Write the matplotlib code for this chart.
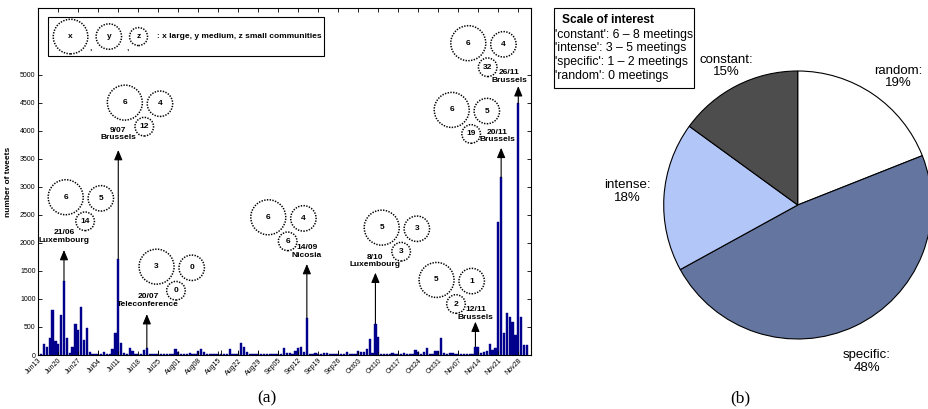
import numpy as np
import matplotlib.pyplot as plt
from matplotlib.patches import Rectangle

plt.rcParams["font.family"] = ["Liberation Sans", "DejaVu Sans"]

# tweets per day, first value is 13 June
tweets = [
    10, 190, 140, 300, 800, 245, 190, 715, 1325, 300,
    30, 140, 555, 445, 855, 270, 490, 45, 25, 15,
    10, 10, 45, 10, 10, 110, 395, 1715, 210, 30,
    10, 122, 72, 25, 20, 15, 90, 120, 20, 10,
    10, 10, 10, 10, 10, 10, 10, 107, 60, 10,
    10, 10, 40, 20, 10, 77, 100, 60, 20, 10,
    10, 10, 10, 10, 10, 10, 107, 10, 10, 10,
    215, 140, 50, 15, 10, 10, 10, 10, 15, 10,
    10, 15, 10, 10, 10, 120, 35, 35, 10, 80,
    120, 150, 60, 660, 10, 25, 40, 20, 15, 40,
    30, 15, 10, 10, 10, 10, 10, 50, 10, 10,
    10, 80, 60, 55, 100, 285, 30, 555, 320, 20,
    20, 20, 10, 30, 10, 10, 10, 30, 10, 10,
    10, 90, 60, 10, 45, 125, 10, 10, 80, 80,
    305, 30, 10, 40, 40, 10, 10, 10, 15, 15,
    15, 10, 150, 135, 30, 60, 70, 195, 90, 120,
    2370, 3175, 400, 745, 685, 595, 357, 4495, 685, 180,
    180,
]

tick_labels = [
    "Jun13", "Jun20", "Jun27", "Jul04", "Jul11", "Jul18", "Jul25",
    "Aug01", "Aug08", "Aug15", "Aug22", "Aug29", "Sep05", "Sep12",
    "Sep19", "Sep26", "Oct03", "Oct10", "Oct17", "Oct24", "Oct31",
    "Nov07", "Nov14", "Nov21", "Nov28",
]

# thin black marker lines
mark_days = [20, 41, 63, 69, 76, 83, 104, 125, 146]
mark_height = 90

# meetings
meet_dates = ["21/06", "9/07", "20/07", "14/09", "8/10", "12/11", "20/11", "26/11"]
meet_places = ["Luxembourg", "Brussels", "Teleconference", "Nicosia",
               "Luxembourg", "Brussels", "Brussels", "Brussels"]
peak_days = [8, 27, 37, 93, 117, 152, 161, 167]
comm_large = [6, 6, 3, 6, 5, 5, 6, 6]
comm_medium = [5, 4, 0, 4, 3, 1, 5, 4]
comm_small = [14, 12, 0, 6, 3, 2, 19, 32]

# pie
interest = ["random", "specific", "intense", "constant"]
shares = [19, 48, 18, 15]
pie_colors = ["white", "#6476a0", "#b3c6f8", "#4d4d4d"]
scale_lines = [
    "'constant': 6 \u2013 8 meetings",
    "'intense': 3 \u2013 5 meetings",
    "'specific': 1 \u2013 2 meetings",
    "'random': 0 meetings",
]

# layout of the annotations (data units of panel a)
arrow_tips = [1875, 3660, 730, 1625, 1470, 595, 3700, 4800]
label_y = [2113, 3944, 975, 1845, 1679, 738, 3908, 4977]
label_dx = [0, 0, 0.4, 0, 0, 0, -1.3, -3.2]
circle_xy = [(9.6, 2817), (30.3, 4506), (41.4, 1577), (80.5, 2459),
             (120.2, 2274), (139.4, 1340), (144.7, 4376), (150.5, 5567)]

W, H = 929, 409
S_BIG, S_MED, S_SMALL = 635, 335, 180
DOTS = (0, (0.9, 0.9))
BOLD = dict(fontsize=6, fontweight="bold", ha="center", va="center")


def circles(ax, xs, ys, sizes, texts):
    ax.scatter(xs, ys, s=sizes, facecolors="none", edgecolors="black",
               linewidths=1.1, linestyles=DOTS, zorder=4)
    for x, y, t in zip(xs, ys, texts):
        ax.text(x, y, str(t), zorder=5, **BOLD)


def main():
    fig = plt.figure(figsize=(W / 100, H / 100), dpi=100)

    # ---------- (a) tweets per day ----------
    ax = fig.add_axes([37.7 / W, 54 / H, (531 - 37.7) / W, (355 - 8.3) / H])
    days = np.arange(len(tweets)) + 1
    ax.bar(days, tweets, width=0.8, color="#00008c", edgecolor="#00008c",
           linewidth=0.3)
    ax.vlines(np.array(mark_days) + 1, 0, mark_height, color="black",
              linewidth=0.6)

    ax.set_xlim(-0.2, 172.45)
    ax.set_ylim(0, 6190)
    ax.set_xticks(np.arange(len(tick_labels)) * 7)
    ax.set_xticklabels(tick_labels, rotation=45, ha="right",
                       rotation_mode="anchor")
    ax.set_yticks(np.arange(0, 5001, 500))
    ax.tick_params(direction="in", top=True, right=True, length=3,
                   width=0.6, labelsize=5, pad=1.5)
    for spine in ax.spines.values():
        spine.set_linewidth(0.8)
    ax.set_ylabel("number of tweets", fontsize=6, fontweight="bold")
    ax.yaxis.set_label_coords(-0.052, 0.5)

    for i in range(len(meet_dates)):
        x = peak_days[i] + 1
        ax.annotate(
            "", xy=(x, arrow_tips[i]), xytext=(x, tweets[peak_days[i]]),
            arrowprops=dict(arrowstyle="-|>,head_length=0.6,head_width=0.25",
                            color="black", lw=0.8, shrinkA=0, shrinkB=0),
        )
        ax.text(x + label_dx[i], label_y[i],
                f"{meet_dates[i]}\n{meet_places[i]}", linespacing=1.15,
                **BOLD)
        cx, cy = circle_xy[i]
        circles(ax, [cx, cx + 12.3, cx + 6.8], [cy, cy - 20, cy - 430],
                [S_BIG, S_MED, S_SMALL],
                [comm_large[i], comm_medium[i], comm_small[i]])

    # legend box of panel (a)
    ax.add_patch(Rectangle((3.5, 5346), 96.6, 696, facecolor="white",
                           edgecolor="black", linewidth=0.8, zorder=3))
    circles(ax, [11.3, 24.7, 35.1], [5685, 5685, 5685],
            [620, 335, 168], ["x", "y", "z"])
    for cx in (18.4, 31.4):
        ax.text(cx, 5470, ",", zorder=5, **BOLD)
    ax.text(41.4, 5685, ": x large, y medium, z small communities",
            fontsize=6, fontweight="bold", ha="left", va="center", zorder=5)

    # ---------- (b) pie ----------
    half = 134 * 1.02
    ax2 = fig.add_axes([(797.7 - half) / W, (409 - 205 - half) / H,
                        2 * half / W, 2 * half / H])
    ax2.pie(shares, colors=pie_colors, startangle=90, counterclock=False,
            wedgeprops=dict(edgecolor="black", linewidth=0.8))
    ax2.set_xlim(-1.02, 1.02)
    ax2.set_ylim(-1.02, 1.02)
    label_pos = [(0.75, 0.957), (0.515, -1.169), (-1.272, 0.102),
                 (-0.53, 1.039)]
    for name, share, (lx, ly) in zip(interest, shares, label_pos):
        ax2.text(lx, ly, f"{name}:\n{share}%", fontsize=9.5, ha="center",
                 va="center", linespacing=1.05, clip_on=False)

    fig.patches.append(Rectangle((554 / W, 1 - 88.3 / H), 140 / W, 80 / H,
                                 transform=fig.transFigure, facecolor="white",
                                 edgecolor="black", linewidth=0.8))
    fig.text(561.7 / W, 1 - 20 / H, "Scale of interest", fontsize=8.6,
             fontweight="bold", va="center")
    for k, line in enumerate(scale_lines):
        fig.text(555 / W, 1 - (34.7 + 13.8 * k) / H, line, fontsize=8.8,
                 va="center")

    fig.text(267 / W, 1 - 398 / H, "(a)", fontsize=12.5,
             family="Liberation Serif", ha="center", va="center")
    fig.text(740 / W, 1 - 398 / H, "(b)", fontsize=12.5,
             family="Liberation Serif", ha="center", va="center")

    fig.savefig("out.png", dpi=100)
    plt.close(fig)


if __name__ == "__main__":
    main()
